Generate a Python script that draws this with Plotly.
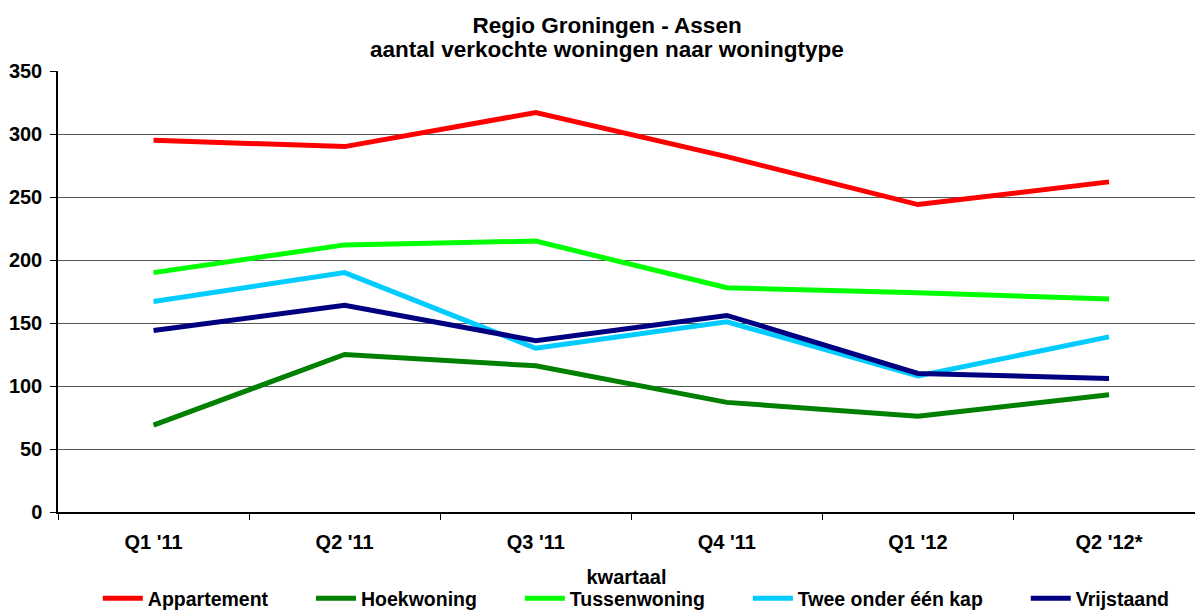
import plotly.graph_objects as go

categories = ["Q1 '11", "Q2 '11", "Q3 '11", "Q4 '11", "Q1 '12", "Q2 '12*"]
appartement = [295, 290, 317, 282, 244, 262]
hoekwoning = [69, 125, 116, 87, 76, 93]
tussenwoning = [190, 212, 215, 178, 174, 169]
twee_onder_een_kap = [167, 190, 130, 151, 108, 139]
vrijstaand = [144, 164, 136, 156, 110, 106]

series = [
    ("Appartement", appartement, "#FF0000"),
    ("Hoekwoning", hoekwoning, "#008000"),
    ("Tussenwoning", tussenwoning, "#00FF00"),
    ("Twee onder één kap", twee_onder_een_kap, "#00CCFF"),
    ("Vrijstaand", vrijstaand, "#000080"),
]

PAD = "\u00a0" * 7
fig = go.Figure()
for i, (name, vals, color) in enumerate(series):
    label = "<b>" + name + "</b>" + (PAD if i < len(series) - 1 else "")
    fig.add_trace(go.Scatter(x=categories, y=vals, name=label, mode="lines",
                             line=dict(color=color, width=5)))

font = "Liberation Sans, Arial, sans-serif"
fig.update_layout(
    width=1195, height=610,
    margin=dict(l=58, r=0, t=71, b=98, autoexpand=False),
    paper_bgcolor="white", plot_bgcolor="white",
    font=dict(family=font, color="black"),
    title=dict(text="<b>Regio Groningen - Assen</b>",
               x=0.508, xanchor="center", xref="container", yref="container",
               y=1 - 25 / 610, yanchor="middle",
               font=dict(size=22.5, family=font, color="black")),
    annotations=[dict(text="<b>aantal verkochte woningen naar woningtype</b>",
                      xref="paper", yref="paper", x=(607 - 58) / 1137, y=(512 - 49) / 441,
                      xanchor="center", yanchor="middle", showarrow=False,
                      font=dict(size=22.5, family=font, color="black"))],
    showlegend=True,
    legend=dict(orientation="h", x=0.035, xanchor="left", y=-0.152, yanchor="top",
                font=dict(size=19.5, family=font, color="black"),
                itemwidth=40, tracegroupgap=0, bgcolor="rgba(0,0,0,0)"),
    xaxis=dict(type="category", range=[-0.5, 5.45], tickson="boundaries", ticks="outside", ticklen=6,
               tickcolor="black", showline=True, linecolor="black", linewidth=1.5,
               showgrid=False, tickfont=dict(size=20, family=font),
               ticklabelstandoff=11, automargin=False,
               tickprefix="<b>", ticksuffix="</b>",
               title=dict(text="<b>kwartaal</b>", font=dict(size=20, family=font), standoff=18)),
    yaxis=dict(range=[0, 350], dtick=50, ticks="outside", ticklen=6, tickcolor="black",
               showline=True, linecolor="black", linewidth=1.5, automargin=False,
               showgrid=True, gridcolor="#555555", gridwidth=1,
               zeroline=True, zerolinecolor="black", zerolinewidth=1.5,
               tickfont=dict(size=20, family=font), ticklabelstandoff=4,
               tickprefix="<b>", ticksuffix="</b>"),
)
fig.write_html("out.html", config={"displayModeBar": False},
               post_script="document.body.style.margin='0';document.body.style.overflow='hidden';")
